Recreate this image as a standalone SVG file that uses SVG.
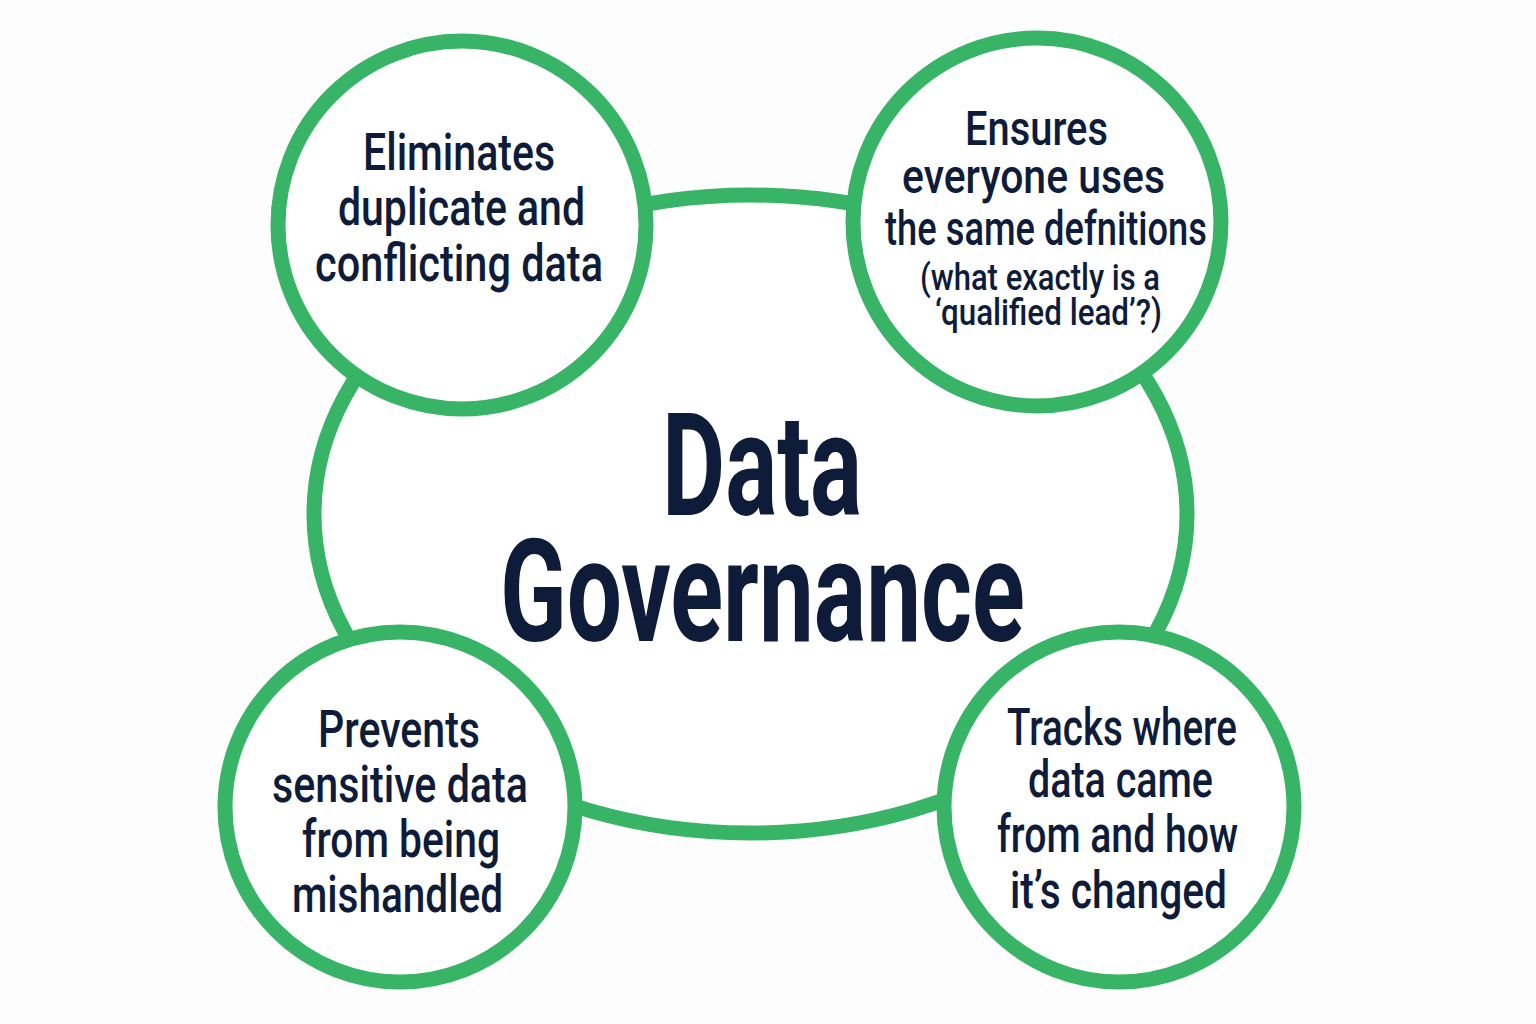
<svg xmlns="http://www.w3.org/2000/svg" width="1536" height="1024" viewBox="0 0 1536 1024">
<style>
.ring{fill:#ffffff;stroke:#38b466;stroke-width:15}
.t{font-family:Roboto,"Liberation Sans",sans-serif;font-weight:500;fill:#0e1c3a;text-anchor:middle}
.m{font-size:52px}
.s{font-size:37px}
.big{font-family:Roboto,"Liberation Sans",sans-serif;font-weight:700;font-size:142px;fill:#0e1c3a;text-anchor:middle}
</style>
<rect width="1536" height="1024" fill="#fdfdfd"/>
<g id="connectors"></g>
<g id="center">
<ellipse class="ring" cx="750.5" cy="514" rx="436.5" ry="319"/>
<text class="big" x="762" y="515" textLength="200" lengthAdjust="spacingAndGlyphs">Data</text>
<text class="big" x="762.5" y="641" textLength="525" lengthAdjust="spacingAndGlyphs">Governance</text>
</g>
<g id="node-eliminates">
<circle class="ring" cx="462" cy="225" r="184"/>
<text class="t m" x="459" y="170" textLength="192" lengthAdjust="spacingAndGlyphs">Eliminates</text>
<text class="t m" x="461.5" y="225" textLength="247" lengthAdjust="spacingAndGlyphs">duplicate and</text>
<text class="t m" x="459" y="281" textLength="288" lengthAdjust="spacingAndGlyphs">conflicting data</text>
</g>
<g id="node-ensures">
<circle class="ring" cx="1037" cy="222" r="184"/>
<text class="t" style="font-size:49px" x="1036.5" y="145" textLength="143" lengthAdjust="spacingAndGlyphs">Ensures</text>
<text class="t" style="font-size:49px" x="1033.5" y="193" textLength="263" lengthAdjust="spacingAndGlyphs">everyone uses</text>
<text class="t" style="font-size:49px" x="1046" y="245" textLength="322" lengthAdjust="spacingAndGlyphs">the same defnitions</text>
<text class="t s" x="1040" y="290" textLength="240" lengthAdjust="spacingAndGlyphs">(what exactly is a</text>
<text class="t s" x="1048.5" y="325" textLength="227" lengthAdjust="spacingAndGlyphs">‘qualified lead’?)</text>
</g>
<g id="node-prevents">
<circle class="ring" cx="400" cy="807" r="175"/>
<text class="t m" x="399" y="747" textLength="162" lengthAdjust="spacingAndGlyphs">Prevents</text>
<text class="t m" x="400" y="802" textLength="256" lengthAdjust="spacingAndGlyphs">sensitive data</text>
<text class="t m" x="401" y="857" textLength="198" lengthAdjust="spacingAndGlyphs">from being</text>
<text class="t m" x="397.5" y="912" textLength="211" lengthAdjust="spacingAndGlyphs">mishandled</text>
</g>
<g id="node-tracks">
<circle class="ring" cx="1119" cy="807" r="175"/>
<text class="t m" x="1122" y="745" textLength="230" lengthAdjust="spacingAndGlyphs">Tracks where</text>
<text class="t m" x="1120.5" y="797" textLength="185" lengthAdjust="spacingAndGlyphs">data came</text>
<text class="t m" x="1117.5" y="852" textLength="241" lengthAdjust="spacingAndGlyphs">from and how</text>
<text class="t m" x="1118.5" y="908" textLength="217" lengthAdjust="spacingAndGlyphs">it’s changed</text>
</g>
</svg>
